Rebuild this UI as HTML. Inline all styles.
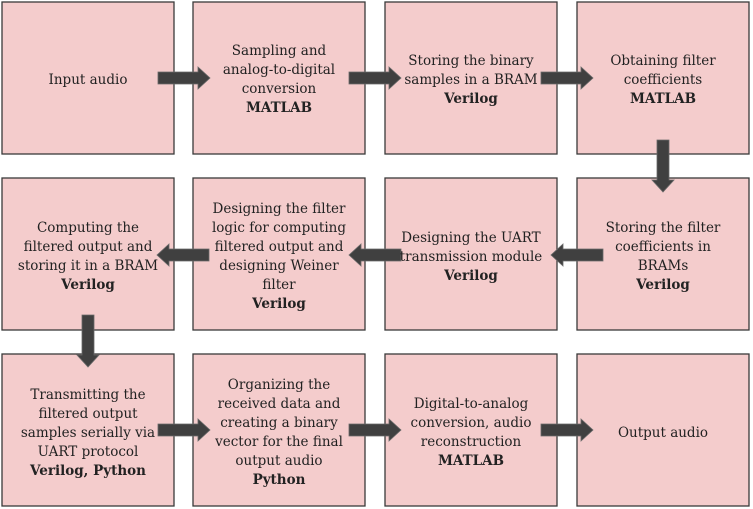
<!DOCTYPE html>
<html><head><meta charset="utf-8"><style>
html,body{margin:0;padding:0;background:#fff;}
svg{display:block;}
text{font-family:"DejaVu Serif","Liberation Serif",serif;font-size:13.5px;fill:#222;}
.b{font-weight:bold;}
</style></head><body>
<svg width="753" height="509" viewBox="0 0 753 509" xmlns="http://www.w3.org/2000/svg">
<defs>
<path id="ar" d="M0,-6 L40,-6 L40,-11 L52,0 L40,11 L40,6 L0,6 Z" fill="#404040" stroke="#6a6a6a" stroke-width="0.8"/>
</defs>
<g fill="#f4cccc" stroke="#3a3a3a" stroke-width="1.3">
<rect x="2" y="2" width="172" height="152"/>
<rect x="193" y="2" width="172" height="152"/>
<rect x="385" y="2" width="172" height="152"/>
<rect x="577" y="2" width="172" height="152"/>
<rect x="2" y="178" width="172" height="152"/>
<rect x="193" y="178" width="172" height="152"/>
<rect x="385" y="178" width="172" height="152"/>
<rect x="577" y="178" width="172" height="152"/>
<rect x="2" y="354" width="172" height="152"/>
<rect x="193" y="354" width="172" height="152"/>
<rect x="385" y="354" width="172" height="152"/>
<rect x="577" y="354" width="172" height="152"/>
</g>
<use href="#ar" transform="translate(158,78)"/>
<use href="#ar" transform="translate(349,78)"/>
<use href="#ar" transform="translate(541,78)"/>
<use href="#ar" transform="translate(663,140) rotate(90)"/>
<use href="#ar" transform="translate(603,255) rotate(180)"/>
<use href="#ar" transform="translate(401,255) rotate(180)"/>
<use href="#ar" transform="translate(209,255) rotate(180)"/>
<use href="#ar" transform="translate(88,315) rotate(90)"/>
<use href="#ar" transform="translate(158,430)"/>
<use href="#ar" transform="translate(349,430)"/>
<use href="#ar" transform="translate(541,430)"/>
<g text-anchor="middle" font-family="DejaVu Serif, Liberation Serif, serif" font-size="13.5">
<text x="88" y="84">Input audio</text>
<text x="279" y="55">Sampling and</text>
<text x="279" y="74">analog-to-digital</text>
<text x="279" y="93">conversion</text>
<text x="279" y="112" class="b">MATLAB</text>
<text x="471" y="65">Storing the binary</text>
<text x="471" y="84">samples in a BRAM</text>
<text x="471" y="103" class="b">Verilog</text>
<text x="663" y="65">Obtaining filter</text>
<text x="663" y="84">coefficients</text>
<text x="663" y="103" class="b">MATLAB</text>
<text x="88" y="232">Computing the</text>
<text x="88" y="251">filtered output and</text>
<text x="88" y="270">storing it in a BRAM</text>
<text x="88" y="289" class="b">Verilog</text>
<text x="279" y="213">Designing the filter</text>
<text x="279" y="232">logic for computing</text>
<text x="279" y="251">filtered output and</text>
<text x="279" y="270">designing Weiner</text>
<text x="279" y="289">filter</text>
<text x="279" y="308" class="b">Verilog</text>
<text x="471" y="242">Designing the UART</text>
<text x="471" y="261">transmission module</text>
<text x="471" y="280" class="b">Verilog</text>
<text x="663" y="232">Storing the filter</text>
<text x="663" y="251">coefficients in</text>
<text x="663" y="270">BRAMs</text>
<text x="663" y="289" class="b">Verilog</text>
<text x="88" y="399">Transmitting the</text>
<text x="88" y="418">filtered output</text>
<text x="88" y="437">samples serially via</text>
<text x="88" y="456">UART protocol</text>
<text x="88" y="475" class="b">Verilog, Python</text>
<text x="279" y="389">Organizing the</text>
<text x="279" y="408">received data and</text>
<text x="279" y="427">creating a binary</text>
<text x="279" y="446">vector for the final</text>
<text x="279" y="465">output audio</text>
<text x="279" y="484" class="b">Python</text>
<text x="471" y="408">Digital-to-analog</text>
<text x="471" y="427">conversion, audio</text>
<text x="471" y="446">reconstruction</text>
<text x="471" y="465" class="b">MATLAB</text>
<text x="663" y="437">Output audio</text>
</g>
</svg>
</body></html>
